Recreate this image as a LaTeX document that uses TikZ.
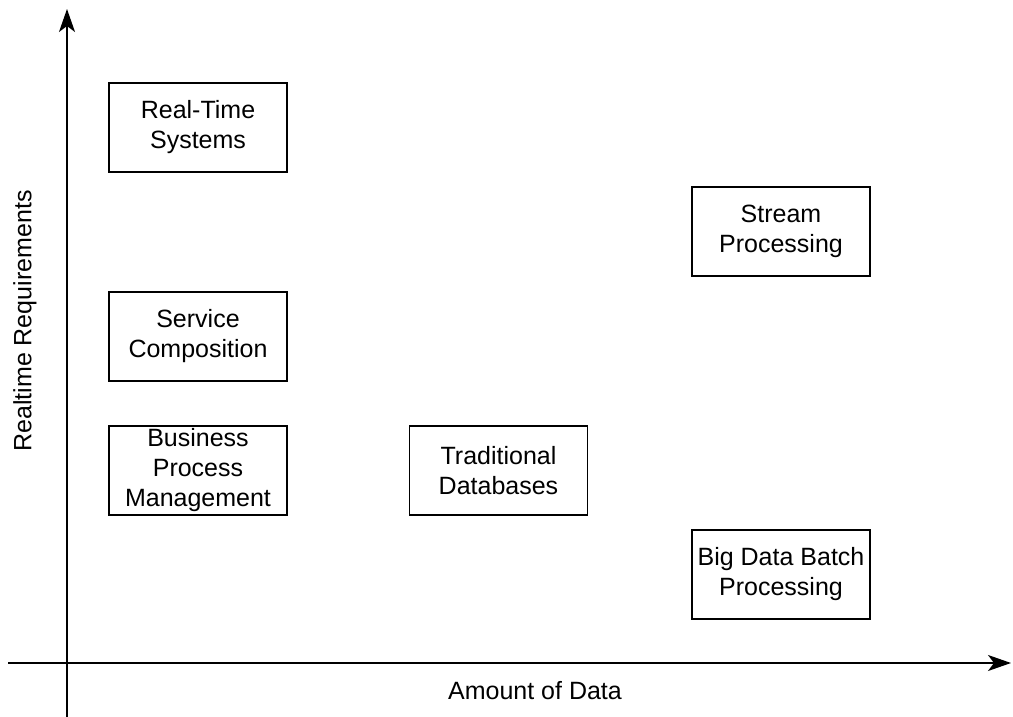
\documentclass[tikz,border=0pt]{standalone}
\usepackage{fontspec}
\setmainfont{Liberation Sans}
\usetikzlibrary{arrows.meta}
\begin{document}
\begin{tikzpicture}[x=1pt,y=-1pt,
  box/.style={draw,line width=1.2pt,minimum width=178pt,minimum height=89pt,inner sep=0pt,align=center,font=\fontsize{25}{30}\selectfont},
  axis/.style={line width=1.4pt,-{Stealth[length=23pt,width=16pt,inset=6pt]}},
  lbl/.style={font=\fontsize{25}{30}\selectfont,inner sep=0pt}]
\useasboundingbox (0,0) rectangle (1013,717);
\coordinate (yb) at (67,717);
\coordinate (yt) at (67,9);
\coordinate (xl) at (8,663);
\coordinate (xr) at (1011,663);
\draw[axis] (yb) -- (yt);
\draw[axis] (xl) -- (xr);
\node[box] (rts) at (198,127.5) {Real-Time\\Systems};
\node[box] (sc) at (198,336.5) {Service\\Composition};
\node[box] (bpm) at (198,470.5) {Business\\Process\\Management};
\node[box] (td) at (498.5,470.5) {Traditional\\Databases};
\node[box] (sp) at (781,231.5) {Stream\\Processing};
\node[box] (bd) at (781,574.5) {Big Data Batch\\Processing};
\node[lbl] (xlab) at (535,691) {Amount of Data};
\node[lbl,rotate=90] (ylab) at (25,321) {Realtime Requirements};
\end{tikzpicture}
\end{document}
